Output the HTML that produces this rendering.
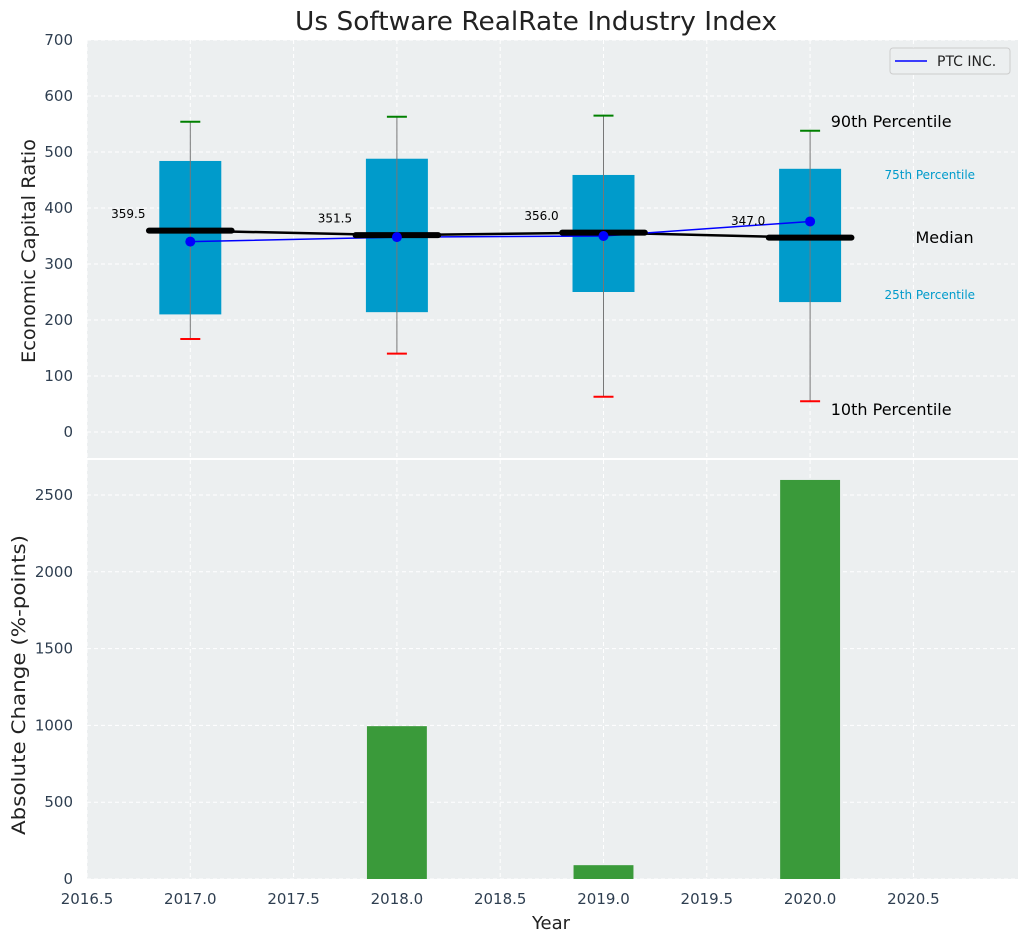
<!DOCTYPE html>
<html><head><meta charset="utf-8"><style>
body{margin:0;background:#fff;font-family:"DejaVu Sans","Liberation Sans",sans-serif}
svg text{font-family:"DejaVu Sans","Liberation Sans",sans-serif}
</style></head><body>
<svg id="c" width="1026" height="942" xmlns="http://www.w3.org/2000/svg"></svg>
<script>
const years=[2017,2018,2019,2020];
const p10=[166,140,63,55];
const p25=[210,214,250,232];
const medians=[359.5,351.5,356.0,347.0];
const p75=[484,488,459,470];
const p90=[554,563,565,538];
const ptc=[340,348,350,376];
const changes=[0,995,90,2598];
const xTicks=[2016.5,2017,2017.5,2018,2018.5,2019,2019.5,2020,2020.5];
const yTopTicks=[0,100,200,300,400,500,600,700];
const yBotTicks=[0,500,1000,1500,2000,2500];

const NS="http://www.w3.org/2000/svg";
const svg=document.getElementById('c');
const L=87,R=1018,T1=40,B1=458,T2=460,B2=879;
const xs=v=>L+(v-2016.5)*206.6;
const y1=v=>432-v*0.56;
const y2=v=>B2-v*0.1536;
function el(tag,attrs,name,text){const e=document.createElementNS(NS,tag);for(const k in attrs)e.setAttribute(k,attrs[k]);


if(text!==undefined)e.textContent=text;svg.appendChild(e);return e;}
el('rect',{x:L,y:T1,width:R-L,height:B1-T1,fill:'#eceff0'},'top-plot-area');
el('rect',{x:L,y:T2,width:R-L,height:B2-T2,fill:'#eceff0'},'bottom-plot-area');
xTicks.forEach(t=>{const x=xs(t);
el('line',{x1:x,x2:x,y1:T1,y2:B1,stroke:'#fff','stroke-dasharray':'4,3'},'x-grid-top');
el('line',{x1:x,x2:x,y1:T2,y2:B2,stroke:'#fff','stroke-dasharray':'4,3'},'x-grid-bottom');
el('text',{x:x,y:904,'text-anchor':'middle','font-size':15,fill:'#2e3e50'},'x-tick-label',t.toFixed(1));});
yTopTicks.forEach(t=>{const y=y1(t);
el('line',{x1:L,x2:R,y1:y,y2:y,stroke:'#fff','stroke-dasharray':'4,3'},'y-grid-top');
el('text',{x:73,y:y+5,'text-anchor':'end','font-size':15,fill:'#2e3e50'},'y-tick-label-top',t);});
yBotTicks.forEach(t=>{const y=y2(t);
el('line',{x1:L,x2:R,y1:y,y2:y,stroke:'#fff','stroke-dasharray':'4,3'},'y-grid-bottom');
el('text',{x:73,y:y+5,'text-anchor':'end','font-size':15,fill:'#2e3e50'},'y-tick-label-bottom',t);});
years.forEach((yr,i)=>{const x=xs(yr),w=0.3*206.6;
el('rect',{x:x-w/2,y:y1(p75[i]),width:w,height:y1(p25[i])-y1(p75[i]),fill:'#009bcb'},'box-'+yr);
el('line',{x1:x,x2:x,y1:y1(p90[i]),y2:y1(p10[i]),stroke:'#777','stroke-width':1},'whisker-'+yr);
el('line',{x1:x-10,x2:x+10,y1:y1(p90[i]),y2:y1(p90[i]),stroke:'green','stroke-width':2},'p90-cap-'+yr);
el('line',{x1:x-10,x2:x+10,y1:y1(p10[i]),y2:y1(p10[i]),stroke:'red','stroke-width':2},'p10-cap-'+yr);
});
el('polyline',{points:years.map((y,i)=>xs(y)+','+y1(medians[i])).join(' '),fill:'none',stroke:'#000','stroke-width':2.5},'median-line');
el('polyline',{points:years.map((y,i)=>xs(y)+','+y1(ptc[i])).join(' '),fill:'none',stroke:'blue','stroke-width':1.5},'ptc-line');
years.forEach((yr,i)=>{const x=xs(yr);
el('line',{x1:x-0.2*206.6,x2:x+0.2*206.6,y1:y1(medians[i]),y2:y1(medians[i]),stroke:'#000','stroke-width':6,'stroke-linecap':'round'},'median-bar-'+yr);
el('circle',{cx:x,cy:y1(ptc[i]),r:5,fill:'blue'},'ptc-point-'+yr);
el('text',{x:xs(yr-0.3),y:y1(medians[i]+30)+4,'text-anchor':'middle','font-size':12,fill:'#000'},'median-label-'+yr,medians[i].toFixed(1));
const bw=0.29*206.6;
if(changes[i]>0)el('rect',{x:x-bw/2,y:y2(changes[i]),width:bw,height:y2(0)-y2(changes[i]),fill:'#3a9a3a'},'change-bar-'+yr);
});
const ax=xs(2020.1);
el('text',{x:ax,y:127,'font-size':16,fill:'#000'},'p90-annotation','90th Percentile');
el('text',{x:xs(2020.36),y:179,'font-size':12,fill:'#009bcb'},'p75-annotation','75th Percentile');
el('text',{x:xs(2020.51),y:243,'font-size':16,fill:'#000'},'median-annotation','Median');
el('text',{x:xs(2020.36),y:299,'font-size':12,fill:'#009bcb'},'p25-annotation','25th Percentile');
el('text',{x:ax,y:415,'font-size':16,fill:'#000'},'p10-annotation','10th Percentile');
el('rect',{x:890,y:48,width:120,height:26,rx:3,fill:'#eceff0',stroke:'#ccc'},'legend');
el('line',{x1:895,x2:927,y1:61,y2:61,stroke:'blue','stroke-width':1.5},'legend-swatch');
el('text',{x:937,y:66,'font-size':14,fill:'#222'},'legend-label','PTC INC.');
el('text',{x:536,y:30,'text-anchor':'middle','font-size':26,fill:'#222',textLength:482,lengthAdjust:'spacingAndGlyphs'},'chart-title','Us Software RealRate Industry Index');
el('text',{x:551,y:929,'text-anchor':'middle','font-size':18,fill:'#222'},'x-axis-title','Year');
el('text',{x:0,y:0,'text-anchor':'middle','font-size':19,fill:'#222',textLength:224,lengthAdjust:'spacingAndGlyphs',transform:'translate(35,251) rotate(-90)'},'y-axis-title-top','Economic Capital Ratio');
el('text',{x:0,y:0,'text-anchor':'middle','font-size':19,fill:'#222',textLength:300,lengthAdjust:'spacingAndGlyphs',transform:'translate(25,685) rotate(-90)'},'y-axis-title-bottom','Absolute Change (%-points)');
</script>
</body></html>
